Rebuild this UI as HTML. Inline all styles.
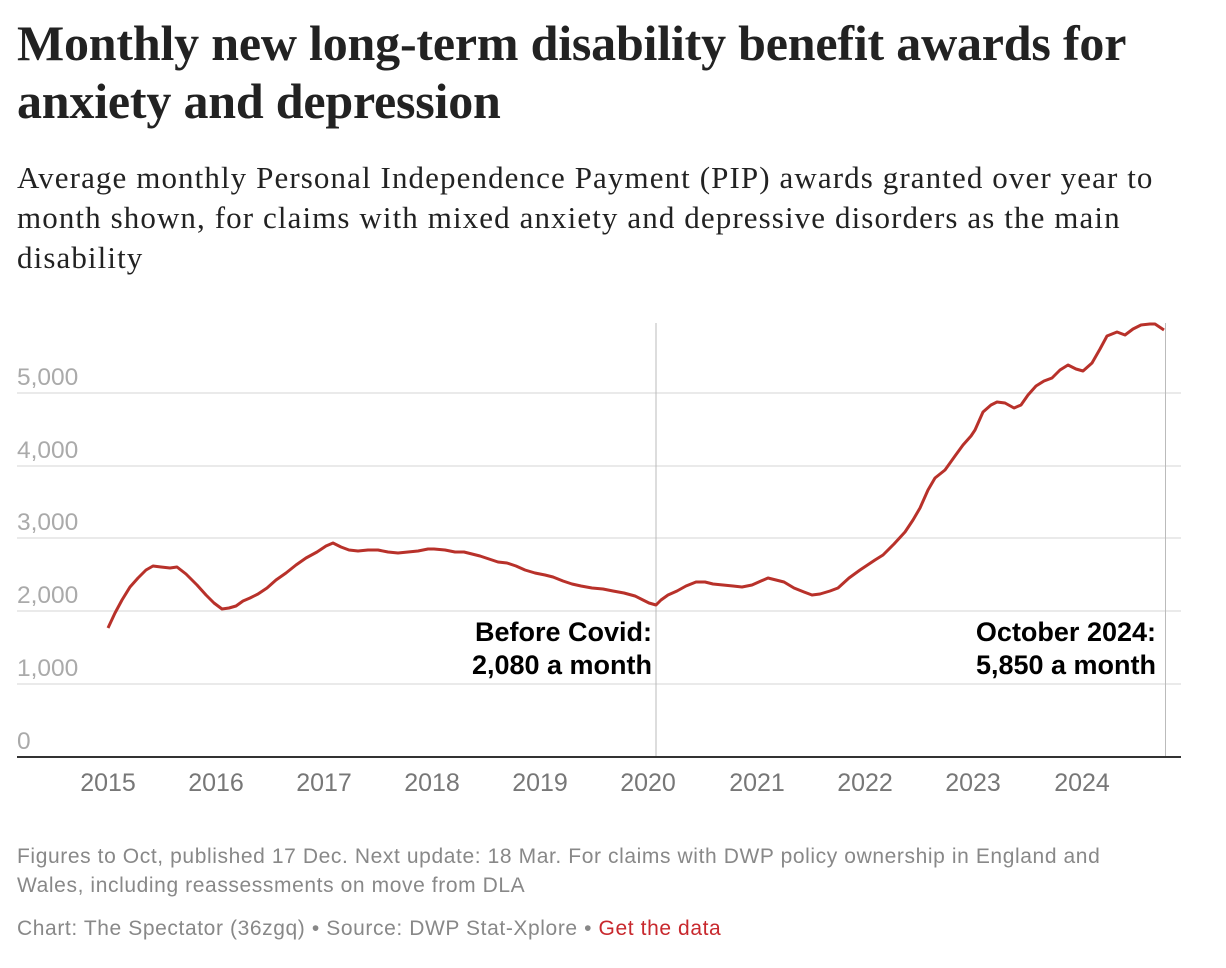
<!DOCTYPE html>
<html><head><meta charset="utf-8"><style>
body{margin:0;background:#fff;width:1226px;height:968px;overflow:hidden;position:relative;font-family:"Liberation Sans",sans-serif}
h1{position:absolute;left:17px;top:14px;margin:0;font-family:"Liberation Serif",serif;font-weight:bold;font-size:50px;line-height:58px;color:#222;letter-spacing:-0.2px}
.sub{position:absolute;left:17px;top:158px;margin:0;font-family:"Liberation Serif",serif;font-size:31px;letter-spacing:1.1px;line-height:40px;color:#222;width:1180px}
.foot{position:absolute;left:17px;color:#888;font-size:21px;letter-spacing:0.6px;line-height:29px}
</style></head><body>
<h1>Monthly new long-term disability benefit awards for<br>anxiety and depression</h1>
<div class="sub">Average monthly Personal Independence Payment (PIP) awards granted over year to month shown, for claims with mixed anxiety and depressive disorders as the main disability</div>
<svg width="1226" height="968" style="position:absolute;left:0;top:0" font-family="Liberation Sans, sans-serif">
<g stroke="#e3e3e3" stroke-width="1.5">
<line x1="17" x2="1181" y1="393" y2="393"/><line x1="17" x2="1181" y1="466" y2="466"/><line x1="17" x2="1181" y1="538" y2="538"/><line x1="17" x2="1181" y1="611" y2="611"/><line x1="17" x2="1181" y1="684" y2="684"/>
</g>
<g fill="#aaa" font-size="24.5">
<text x="17" y="385">5,000</text><text x="17" y="458">4,000</text><text x="17" y="530">3,000</text><text x="17" y="603">2,000</text><text x="17" y="676">1,000</text><text x="17" y="749">0</text>
</g>
<line x1="656" x2="656" y1="323" y2="757" stroke="#bbb" stroke-width="1"/>
<line x1="1165.5" x2="1165.5" y1="323" y2="757" stroke="#bbb" stroke-width="1"/>
<line x1="17" x2="1181" y1="757" y2="757" stroke="#333" stroke-width="2"/>
<g fill="#777" font-size="25" text-anchor="middle">
<text x="108" y="791">2015</text><text x="216" y="791">2016</text><text x="324" y="791">2017</text><text x="432" y="791">2018</text><text x="540" y="791">2019</text><text x="648" y="791">2020</text><text x="757" y="791">2021</text><text x="865" y="791">2022</text><text x="973" y="791">2023</text><text x="1082" y="791">2024</text>
</g>
<polyline fill="none" stroke="#b8312a" stroke-width="3" stroke-linejoin="round" points="108,628 115,613 122,600 130,587 138,578 146,570 153,566 161,567 170,568 177,567 186,574 197,585 206,595 214,603 222,609 229,608 236,606 243,601 250,598 258,594 267,588 276,580 286,573 296,565 306,558 317,552 326,546 333,543 341,547 349,550 358,551 368,550 378,550 388,552 398,553 408,552 418,551 428,549 434,549 445,550 455,552 464,552 472,554 480,556 489,559 498,562 507,563 516,566 525,570 535,573 545,575 553,577 563,581 572,584 581,586 592,588 603,589 613,591 624,593 635,596 643,600 649,603 656,605 661,600 668,595 677,591 686,586 696,582 705,582 713,584 723,585 733,586 742,587 752,585 761,581 768,578 776,580 784,582 794,588 804,592 812,595 820,594 830,591 838,588 849,578 860,570 872,562 875,560 883,555 894,544 905,532 913,520 920,508 928,490 935,478 945,470 955,456 963,445 971,436 975,430 983,412 991,405 997,402 1005,403 1014,408 1021,405 1028,395 1036,386 1044,381 1052,378 1060,370 1068,365 1076,369 1083,371 1092,363 1100,349 1107,336 1117,332 1125,335 1133,329 1141,325 1150,324 1155,324 1164,330"/>
<g font-weight="bold" font-size="27" fill="#000" text-anchor="end">
<text x="652" y="641">Before Covid:</text><text x="652" y="674">2,080 a month</text>
<text x="1156" y="641">October 2024:</text><text x="1156" y="674">5,850 a month</text>
</g>
</svg>
<div class="foot" style="top:842px;width:1150px">Figures to Oct, published 17 Dec. Next update: 18 Mar. For claims with DWP policy ownership in England and Wales, including reassessments on move from DLA</div>
<div class="foot" style="top:914px">Chart: The Spectator (36zgq) • Source: DWP Stat-Xplore • <span style="color:#c8282d">Get the data</span></div>
</body></html>
